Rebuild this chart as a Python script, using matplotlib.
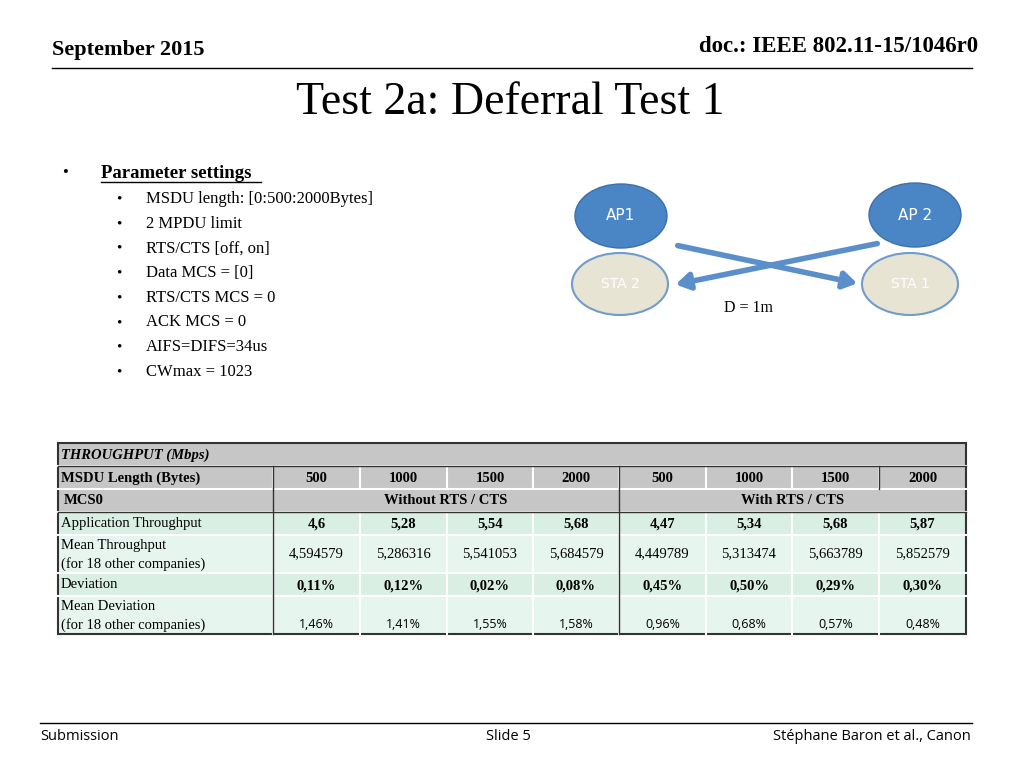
import matplotlib
matplotlib.use("Agg")
import matplotlib.pyplot as plt
from matplotlib.patches import Rectangle, Ellipse, FancyArrowPatch

msdu = ["500", "1000", "1500", "2000", "500", "1000", "1500", "2000"]
groups = ["Without RTS / CTS", "With RTS / CTS"]
app_tp = ["4,6", "5,28", "5,54", "5,68", "4,47", "5,34", "5,68", "5,87"]
mean_tp = ["4,594579", "5,286316", "5,541053", "5,684579", "4,449789", "5,313474", "5,663789", "5,852579"]
deviation = ["0,11%", "0,12%", "0,02%", "0,08%", "0,45%", "0,50%", "0,29%", "0,30%"]
mean_dev = ["1,46%", "1,41%", "1,55%", "1,58%", "0,96%", "0,68%", "0,57%", "0,48%"]
params = ["MSDU length: [0:500:2000Bytes]", "2 MPDU limit", "RTS/CTS [off, on]", "Data MCS = [0]",
          "RTS/CTS MCS = 0", "ACK MCS = 0", "AIFS=DIFS=34us", "CWmax = 1023"]

fig = plt.figure(figsize=(10.24, 7.68), dpi=100)
ax = fig.add_axes([0, 0, 1, 1])
ax.set_xlim(0, 1024); ax.set_ylim(768, 0); ax.axis("off")
serif = "Liberation Serif"

ax.text(52, 50, "September 2015", fontfamily=serif, fontsize=16, fontweight="bold", va="center")
ax.text(978, 47, "doc.: IEEE 802.11-15/1046r0", fontfamily=serif, fontsize=16.5, fontweight="bold", va="center", ha="right")
ax.plot([52, 972], [68, 68], color="black", lw=1)
ax.text(510, 103, "Test 2a: Deferral Test 1", fontfamily=serif, fontsize=33, ha="center", va="center")

ax.text(62, 173, "•", fontfamily=serif, fontsize=12, va="center")
ax.text(101, 173, "Parameter settings", fontfamily=serif, fontsize=13.5, fontweight="bold", va="center")
ax.plot([101, 261], [182, 182], color="black", lw=1)
for i, p in enumerate(params):
    y = 199 + i * 24.7
    ax.text(116, y, "•", fontfamily=serif, fontsize=11, va="center")
    ax.text(146, y, p, fontfamily=serif, fontsize=12, va="center")

# diagram
blue = "#4a86c5"; beige = "#e8e4d4"
for cx, cy, t in [(620, 284, "STA 2"), (910, 284, "STA 1")]:
    ax.add_patch(Ellipse((cx, cy), 96, 62, facecolor=beige, edgecolor="#6f9ccc", lw=1.5))
    ax.text(cx, cy, t, color="white", fontsize=10, ha="center", va="center")
for cx, cy, t in [(621, 216, "AP1"), (915, 215, "AP 2")]:
    ax.add_patch(Ellipse((cx, cy), 92, 64, facecolor=blue, edgecolor="#3b70ad", lw=1))
    ax.text(cx, cy, t, color="white", fontsize=11, ha="center", va="center")
ax.add_artist(FancyArrowPatch((675, 245), (860, 284), arrowstyle="-|>,head_length=8,head_width=5", color="#5b8fc9", lw=4))
ax.add_artist(FancyArrowPatch((880, 243), (673, 285), arrowstyle="-|>,head_length=8,head_width=5", color="#5b8fc9", lw=4))
ax.text(748, 308, "D = 1m", fontfamily=serif, fontsize=11.5, ha="center", va="center")

# table
xs = [58, 273, 360, 447, 533, 619, 706, 792, 879, 966]
ys = [443, 466, 489, 512, 535, 573, 596, 634]
gray = "#c6c6c6"
fills = [gray, gray, gray, "#d9efe4", "#e6f5ee", "#d9efe4", "#e6f5ee"]
for r in range(7):
    ax.add_patch(Rectangle((xs[0], ys[r]), xs[-1] - xs[0], ys[r + 1] - ys[r], facecolor=fills[r], edgecolor="none"))
for r in range(1, 7):
    ax.plot([xs[0], xs[-1]], [ys[r], ys[r]], color="white", lw=1.5)
for c in range(1, 9):
    ax.plot([xs[c], xs[c]], [466, 489], color="white", lw=1.5)
    ax.plot([xs[c], xs[c]], [512, 634], color="white", lw=1.5)
ax.plot([xs[1], xs[1]], [466, 634], color="#333333", lw=1)
ax.plot([xs[5], xs[5]], [466, 634], color="#333333", lw=1)
ax.plot([xs[8], xs[8]], [466, 489], color="#333333", lw=1)
ax.add_patch(Rectangle((xs[0], ys[0]), xs[-1] - xs[0], ys[-1] - ys[0], fill=False, edgecolor="#333333", lw=1.5))
ax.plot([xs[0], xs[-1]], [466, 466], color="#333333", lw=1)
ax.plot([xs[0], xs[-1]], [512, 512], color="#333333", lw=1)

fs = 10.5
ax.text(61, 455, "THROUGHPUT (Mbps)", fontfamily=serif, fontsize=fs, fontweight="bold", style="italic", va="center")
ax.text(61, 478, "MSDU Length (Bytes)", fontfamily=serif, fontsize=fs, fontweight="bold", va="center")
ax.text(64, 501, "MCS0", fontfamily=serif, fontsize=fs, fontweight="bold", va="center")
ax.text(61, 524, "Application Throughput", fontfamily=serif, fontsize=fs, va="center")
ax.text(61, 545, "Mean Throughput", fontfamily=serif, fontsize=fs, va="center")
ax.text(61, 564, "(for 18 other companies)", fontfamily=serif, fontsize=fs, va="center")
ax.text(61, 585, "Deviation", fontfamily=serif, fontsize=fs, va="center")
ax.text(61, 606, "Mean Deviation", fontfamily=serif, fontsize=fs, va="center")
ax.text(61, 625, "(for 18 other companies)", fontfamily=serif, fontsize=fs, va="center")
for g, name in enumerate(groups):
    ax.text((xs[1 + 4 * g] + xs[5 + 4 * g]) / 2, 501, name, fontfamily=serif, fontsize=fs, fontweight="bold", ha="center", va="center")
for c in range(8):
    cx = (xs[c + 1] + xs[c + 2]) / 2
    ax.text(cx, 478, msdu[c], fontfamily=serif, fontsize=fs, fontweight="bold", ha="center", va="center")
    ax.text(cx, 524, app_tp[c], fontfamily=serif, fontsize=fs, fontweight="bold", ha="center", va="center")
    ax.text(cx, 554, mean_tp[c], fontfamily=serif, fontsize=fs, ha="center", va="center")
    ax.text(cx, 586, deviation[c], fontfamily=serif, fontsize=fs, fontweight="bold", ha="center", va="center")
    ax.text(cx, 625, mean_dev[c], fontfamily="Open Sans", fontsize=9, ha="center", va="center")

ax.plot([40, 972], [723, 723], color="black", lw=1)
ax.text(40, 736, "Submission", fontfamily="Open Sans", fontsize=10.5, va="center")
ax.text(508, 736, "Slide 5", fontfamily="Open Sans", fontsize=10.5, ha="center", va="center")
ax.text(971, 736, "Stéphane Baron et al., Canon", fontfamily="Open Sans", fontsize=10.5, ha="right", va="center")

fig.savefig("out.png", dpi=100)
